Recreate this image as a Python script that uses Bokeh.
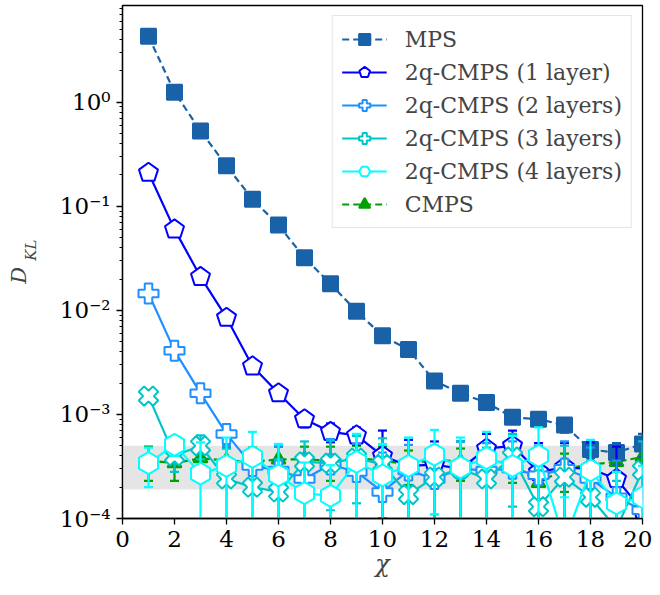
import math
from bokeh.plotting import figure
from bokeh.models import (ColumnDataSource, Legend, LegendItem, BoxAnnotation,
                          FixedTicker, LogAxis)
from bokeh.embed import file_html
from bokeh.resources import INLINE

chi = list(range(1, 21))

mps = [4.3, 1.25, 0.53, 0.245, 0.117, 0.066, 0.032, 0.018, 0.0098, 0.0057,
       0.0042, 0.0021, 0.0016, 0.0013, 9.4e-4, 9.0e-4, 7.9e-4, 4.6e-4, 4.3e-4, 5.2e-4]
mps_err = [0.15, 0.04, 0.015, 0.006, 0.003, 0.0015, 0.0008, 0.0004, 0.0002, 0.00012,
           0.0001, 6e-5, 5e-5, 6e-5, 1.3e-4, 1.4e-4, 1.2e-4, 8e-5, 1e-4, 1.3e-4]

layer1 = [0.21, 0.060, 0.021, 0.0085, 0.0029, 0.0016, 9.0e-4, 6.8e-4, 6.3e-4, 4.0e-4,
          3.2e-4, 3.3e-4, 3.0e-4, 4.7e-4, 5.0e-4, 2.8e-4, 3.1e-4, 3.0e-4, 2.4e-4, 1.2e-4]
layer1_err = [0.008, 0.002, 0.0008, 0.0004, 0.00015, 0.0001, 1.5e-4, 1.4e-4, 1.2e-4, 3.0e-4,
              2.5e-4, 2.2e-4, 2.5e-4, 1.8e-4, 2.0e-4, 2.5e-4, 2.2e-4, 2.4e-4, 2.5e-4, 1.5e-4]

layer2 = [0.0145, 0.0041, 0.0016, 6.5e-4, 3.2e-4, 2.9e-4, 2.4e-4, 3.3e-4, 2.8e-4, 1.8e-4,
          2.9e-4, 2.4e-4, 3.0e-4, 2.9e-4, 3.0e-4, 2.6e-4, 3.0e-4, 2.4e-4, 1.6e-4, 1.2e-4]
layer2_err = [0.0008, 0.0002, 0.0001, 1.5e-4, 1.2e-4, 2.0e-4, 1.8e-4, 2.5e-4, 2.4e-4, 2.5e-4,
              2.2e-4, 2.3e-4, 2.5e-4, 2.4e-4, 2.5e-4, 2.4e-4, 2.5e-4, 2.4e-4, 2.0e-4, 1.6e-4]

layer3 = [0.0015, 4.0e-4, 5.0e-4, 2.4e-4, 2.0e-4, 1.8e-4, 3.5e-4, 3.4e-4, 3.8e-4, 3.3e-4,
          1.7e-4, 2.5e-4, 3.0e-4, 2.4e-4, 3.9e-4, 1.3e-4, 2.5e-4, 1.6e-4, 8.0e-5, 2.9e-4]
layer3_err = [0.0001, 1.2e-4, 1.3e-4, 2.3e-4, 2.1e-4, 1.9e-4, 2.0e-4, 2.2e-4, 2.4e-4, 2.6e-4,
              1.8e-4, 2.4e-4, 2.5e-4, 2.4e-4, 2.6e-4, 1.6e-4, 2.5e-4, 1.9e-4, 1.5e-4, 2.6e-4]

layer4 = [3.4e-4, 5.1e-4, 2.7e-4, 3.2e-4, 3.9e-4, 2.6e-4, 1.75e-4, 1.65e-4, 3.5e-4, 2.6e-4,
          3.2e-4, 4.1e-4, 3.1e-4, 3.8e-4, 3.2e-4, 4.0e-4, 6.0e-5, 2.9e-4, 1.4e-4, 1.6e-4]
layer4_err = [1.4e-4, 1.1e-4, 2.7e-4, 2.8e-4, 2.9e-4, 2.6e-4, 1.7e-4, 1.6e-4, 3.0e-4, 2.6e-4,
              2.8e-4, 3.0e-4, 2.9e-4, 3.0e-4, 3.0e-4, 3.5e-4, 1.0e-4, 2.8e-4, 1.4e-4, 1.6e-4]

cmps = [3.6e-4, 3.4e-4, 3.8e-4, 3.6e-4, 3.5e-4, 3.7e-4, 3.7e-4, 3.6e-4, 3.8e-4, 3.6e-4,
        3.3e-4, 3.7e-4, 3.5e-4, 3.6e-4, 3.4e-4, 2.2e-4, 3.0e-4, 3.3e-4, 3.5e-4, 3.9e-4]
cmps_err = [1.3e-4, 1.1e-4, 1.2e-4, 1.2e-4, 1.3e-4, 1.2e-4, 1.2e-4, 1.3e-4, 1.2e-4, 1.3e-4,
            1.2e-4, 1.3e-4, 1.2e-4, 1.3e-4, 1.2e-4, 1.1e-4, 1.2e-4, 1.3e-4, 1.2e-4, 1.3e-4]

band_low, band_high = 1.9e-4, 5.0e-4

labels = ["MPS", "2q-CMPS (1 layer)", "2q-CMPS (2 layers)", "2q-CMPS (3 layers)",
          "2q-CMPS (4 layers)", "CMPS"]

SERIF = "DejaVu Serif"
W, H = 652, 587
NBSP = "\u00a0"

p = figure(width=W, height=H, x_range=(0, 20), y_range=(1e-4, 8.5),
           y_axis_type="log", output_backend="svg", toolbar_location=None,
           min_border_left=122, min_border_right=10, min_border_top=5,
           min_border_bottom=69, background_fill_color="white")
p.xgrid.visible = False
p.ygrid.visible = False
p.outline_line_color = "black"
p.outline_line_width = 1.3

p.add_layout(BoxAnnotation(bottom=band_low, top=band_high, fill_color="#e5e5e5",
                           fill_alpha=1.0, line_alpha=0, level="underlay"))


def series(vals, errs, color, marker, size, fill, dash, angle=0.0, lw=2.2):
    lo = [max(v - e, 1e-6) for v, e in zip(vals, errs)]
    hi = [v + e for v, e in zip(vals, errs)]
    src = ColumnDataSource(dict(x=chi, y=vals, lo=lo, hi=hi))
    p.segment(x0="x", y0="lo", x1="x", y1="hi", source=src, line_color=color, line_width=2.2)
    p.scatter(x="x", y="lo", source=src, marker="dash", size=9, line_color=color, line_width=2.2)
    p.scatter(x="x", y="hi", source=src, marker="dash", size=9, line_color=color, line_width=2.2)
    ln = p.line(x="x", y="y", source=src, line_color=color, line_width=lw, line_dash=dash)
    if marker == "pentagon":
        sc = p.ngon(x="x", y="y", source=src, radius=size / 2, radius_units="screen", n=5,
                    angle=angle, fill_color=fill, line_color=color, line_width=2)
    else:
        sc = p.scatter(x="x", y="y", source=src, marker=marker, size=size, fill_color=fill,
                       line_color=color, line_width=2, angle=angle)
    return [ln, sc]


r_cmps = series(cmps, cmps_err, "#00a000", "triangle", 14, "#00a000", "7 4")
r_mps = series(mps, mps_err, "#1a62a8", "square", 15, "#1a62a8", "7 4")
r_l1 = series(layer1, layer1_err, "#0000ff", "pentagon", 20, "white", "solid", angle=0.0)
r_l2 = series(layer2, layer2_err, "#1e90ff", "plus", 20, "white", "solid")
r_l3 = series(layer3, layer3_err, "#00c5c8", "plus", 20, "white", "solid", angle=math.pi / 4)
r_l4 = series(layer4, layer4_err, "#00ffff", "hex", 22, "white", "solid", angle=math.pi / 6)

legend = Legend(items=[LegendItem(label=labels[0], renderers=r_mps),
                       LegendItem(label=labels[1], renderers=r_l1),
                       LegendItem(label=labels[2], renderers=r_l2),
                       LegendItem(label=labels[3], renderers=r_l3),
                       LegendItem(label=labels[4], renderers=r_l4),
                       LegendItem(label=labels[5], renderers=r_cmps)],
                location="top_right")
legend.label_text_font = SERIF
legend.label_text_font_size = "22px"
legend.glyph_width = 45
legend.glyph_height = 28
legend.spacing = 5
legend.padding = 9
legend.margin = 10
legend.label_standoff = 18
legend.border_line_color = "#cccccc"
legend.border_line_width = 1.5
legend.background_fill_alpha = 0.9
p.add_layout(legend)

# axes
p.xaxis.ticker = FixedTicker(ticks=list(range(0, 21, 2)), minor_ticks=[])
major = [1e-4, 1e-3, 1e-2, 1e-1, 1.0]
minor = []
for e in range(-4, 1):
    for k in range(2, 10):
        minor.append(k * 10.0 ** e)
p.yaxis.ticker = FixedTicker(ticks=major, minor_ticks=minor)
p.yaxis.major_label_overrides = {1e-4: "10\u207b\u2074", 1e-3: "10\u207b\u00b3",
                                 1e-2: "10\u207b\u00b2", 1e-1: "10\u207b\u00b9",
                                 1.0: "10\u2070"}
for ax in (p.xaxis[0], p.yaxis[0]):
    ax.major_label_text_font = SERIF
    ax.major_label_text_font_size = "23px"
    ax.major_label_text_color = "black"
    ax.axis_line_color = "black"
    ax.axis_line_width = 1.3
    ax.major_tick_line_color = "black"
    ax.major_tick_line_width = 1.3
    ax.major_tick_out = 6
    ax.major_tick_in = 0
    ax.minor_tick_out = 3
    ax.minor_tick_in = 0
    ax.minor_tick_line_color = "black"
p.xaxis.axis_label = "\u03c7"
p.xaxis.axis_label_text_font = SERIF
p.xaxis.axis_label_text_font_style = "italic"
p.xaxis.axis_label_text_font_size = "24px"
p.xaxis.axis_label_standoff = 0
p.xaxis.major_label_standoff = 6
p.yaxis.major_label_standoff = 6

# y label D_KL: subscript on the tick axis, main letter on an outer bare axis
p.yaxis.axis_label = NBSP * 5 + "KL"
p.yaxis.axis_label_text_font = SERIF
p.yaxis.axis_label_text_font_style = "italic"
p.yaxis.axis_label_text_font_size = "15px"
p.yaxis.axis_label_standoff = 17

d_axis = LogAxis(ticker=FixedTicker(ticks=[], minor_ticks=[]), axis_label="D" + NBSP * 4,
                 axis_label_text_font=SERIF, axis_label_text_font_style="italic",
                 axis_label_text_font_size="21px", axis_label_standoff=-12,
                 axis_line_color=None, major_tick_line_color=None,
                 minor_tick_line_color=None, major_label_text_alpha=0,
                 major_tick_out=0, minor_tick_out=0, major_label_standoff=0)
p.add_layout(d_axis, "left")

open("out.html", "w").write(file_html(p, INLINE))
